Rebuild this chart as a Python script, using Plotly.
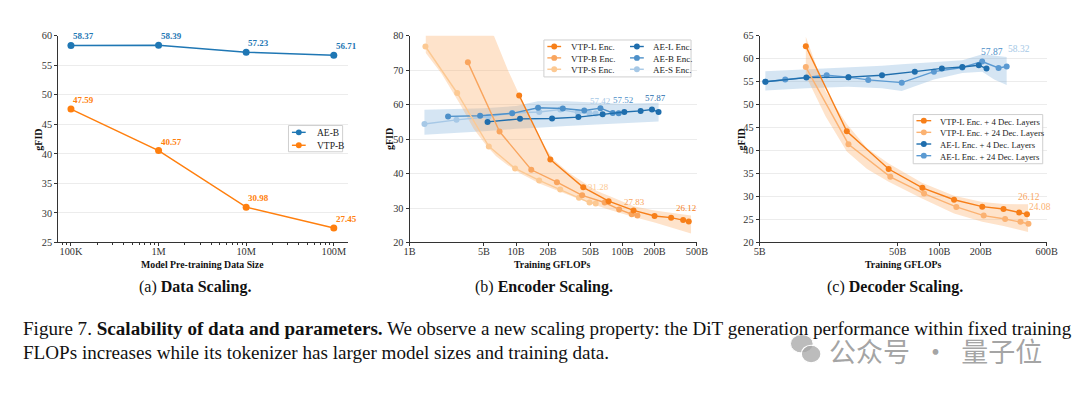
import numpy as np
import plotly.graph_objects as go

W, H = 1080, 394
SERIF = "Liberation Serif, Times New Roman, serif"

# ---------------- data ----------------
# (a) Data scaling
data_size_vals = [1e5, 1e6, 1e7, 1e8]
data_size_ticks = ["100K", "1M", "10M", "100M"]
ae_b = [58.37, 58.39, 57.23, 56.71]
vtp_b = [47.59, 40.57, 30.98, 27.45]

# (b) Encoder scaling (x in billions of GFLOPs)
enc_vtp_l_x = [10.7, 21, 42.8, 74, 127, 200, 286, 371, 419]
enc_vtp_l_y = [62.7, 44.1, 36.0, 32.0, 29.3, 27.7, 27.2, 26.5, 26.12]
enc_vtp_b_x = [3.53, 7.0, 13.9, 24.2, 41.8, 68, 93, 122, 138]
enc_vtp_b_y = [72.3, 52.2, 41.1, 37.5, 33.7, 31.6, 29.6, 28.2, 27.83]
enc_vtp_s_x = [1.41, 2.8, 5.55, 9.8, 16.5, 26, 39, 49, 56]
enc_vtp_s_y = [76.9, 63.4, 47.9, 41.5, 38.0, 35.4, 33.0, 31.6, 31.28]
enc_ae_l_x = [5.4, 10.9, 21.8, 38.5, 65, 104, 148, 189, 218]
enc_ae_l_y = [55.0, 55.9, 56.0, 56.4, 57.2, 57.9, 58.2, 58.6, 57.87]
enc_ae_b_x = [2.3, 4.6, 9.2, 16.1, 27.5, 43.7, 62, 81, 92]
enc_ae_b_y = [56.6, 56.8, 57.5, 59.1, 58.9, 58.3, 59.0, 57.6, 57.52]
enc_ae_s_x = [1.38, 2.76, 5.5, 9.2, 16.5, 26, 38, 49, 56]
enc_ae_s_y = [54.4, 55.6, 56.5, 57.6, 57.9, 58.6, 57.7, 57.5, 57.42]
enc_vtp_band_hi_x = [1.42, 3, 6.2, 8.4, 11.9, 16.7, 22.6, 32, 57, 128, 200, 300, 440]
enc_vtp_band_hi = [92, 86, 80, 70, 60, 50, 44, 40, 35, 30.5, 29.3, 28.6, 27.8]
enc_vtp_band_lo_x = [1.42, 2, 3, 4, 5.3, 6.5, 8.3, 11, 17, 26, 40, 70, 125, 200, 300, 440]
enc_vtp_band_lo = [75, 69, 60, 53, 48, 45, 42.5, 40, 37, 34.8, 32.5, 29.8, 27.5, 25.8, 24.2, 22.6]
enc_ae_band_x = [1.38, 5, 10, 16, 30, 60, 100, 218]
enc_ae_band_hi = [58.5, 59, 59.6, 61, 61, 60.5, 60.3, 60.6]
enc_ae_band_lo = [51.3, 52.3, 53, 53.3, 53.8, 54.3, 54.6, 55.1]

# (c) Decoder scaling
dec_vtp4_x = [10.8, 21.4, 43, 75.5, 128, 205, 292, 379, 432]
dec_vtp4_y = [62.75, 44.2, 36.0, 31.9, 29.3, 27.8, 27.3, 26.5, 26.12]
dec_vtp24_x = [10.8, 22, 44.2, 77.6, 133, 210, 300, 388, 443]
dec_vtp24_y = [58.2, 41.4, 34.3, 30.65, 27.75, 25.85, 25.1, 24.5, 24.08]
dec_ae4_x = [5.5, 10.9, 22, 38.5, 66.5, 104.5, 147, 193.5, 220]
dec_ae4_y = [55.0, 55.9, 56.0, 56.4, 57.2, 57.9, 58.2, 58.6, 57.87]
dec_ae24_x = [5.5, 7.66, 15.3, 22, 30.6, 53.5, 91.5, 147, 204.6, 269, 308]
dec_ae24_y = [55.0, 55.5, 56.4, 56.0, 55.4, 54.8, 57.2, 58.1, 59.4, 58.0, 58.32]
dec_vtp_band_x = [10.8, 15, 21.4, 30, 43, 75, 128, 205, 292, 440]
dec_vtp_band_hi = [64.8, 53, 45.8, 40.5, 37.2, 33, 30.2, 28.8, 28.4, 28.3]
dec_vtp_band_lo = [56.3, 47.5, 39.8, 36, 33.2, 29.6, 26.3, 24.5, 23.6, 22.3]
dec_ae_band_x = [5.5, 10.9, 22, 38.5, 53.5, 91.5, 147, 205, 250, 308]
dec_ae_band_hi = [57.3, 57.7, 58.1, 58.5, 58.8, 59.3, 59.7, 61, 60.7, 60.4]
dec_ae_band_lo = [53.1, 53.6, 53.9, 53.6, 53.0, 55.5, 56.9, 57.2, 55.5, 54.3]

enc_ticks = [1, 5, 10, 20, 50, 100, 200, 500]
enc_tick_text = ["1B", "5B", "10B", "20B", "50B", "100B", "200B", "500B"]
dec_ticks = [5, 50, 100, 200, 600]
dec_tick_text = ["5B", "50B", "100B", "200B", "600B"]

# ---------------- styles ----------------
C_BLUE = "#1f77b4"
C_ORANGE = "#ff7f0e"
C_VTP_L = "#f77f19"
C_VTP_B = "#f9a55e"
C_VTP_S = "#fcc993"
C_AE_L = "#1f6ead"
C_AE_B = "#4d90c9"
C_AE_S = "#a6c8e6"
C_VTP24 = "#fbb272"
C_AE24 = "#5b9ad2"
BAND_OR = "rgba(253,174,107,0.35)"
BAND_BL = "rgba(100,160,210,0.27)"


def pxx(x):
    return x / W


def pyy(y):
    return 1 - y / H


fig = go.Figure()


def line_trace(x, y, color, xa, ya, size=6, width=1.4):
    fig.add_trace(go.Scatter(x=x, y=y, mode="lines+markers", xaxis=xa, yaxis=ya,
                             line=dict(color=color, width=width),
                             marker=dict(color=color, size=size),
                             showlegend=False, hoverinfo="x+y"))


def band_trace(x_hi, hi, x_lo, lo, color, xa, ya):
    fig.add_trace(go.Scatter(x=list(x_hi) + list(x_lo)[::-1], y=list(hi) + list(lo)[::-1],
                             fill="toself", fillcolor=color, mode="lines",
                             line=dict(width=0), xaxis=xa, yaxis=ya,
                             showlegend=False, hoverinfo="skip"))


# panel a
line_trace(data_size_vals, ae_b, C_BLUE, "x", "y", size=7, width=1.5)
line_trace(data_size_vals, vtp_b, C_ORANGE, "x", "y", size=7, width=1.5)

# panel b
band_trace(enc_ae_band_x, enc_ae_band_hi, enc_ae_band_x, enc_ae_band_lo, BAND_BL, "x2", "y2")
band_trace(enc_vtp_band_hi_x, enc_vtp_band_hi, enc_vtp_band_lo_x, enc_vtp_band_lo, BAND_OR, "x2", "y2")
line_trace(enc_ae_s_x, enc_ae_s_y, C_AE_S, "x2", "y2")
line_trace(enc_ae_b_x, enc_ae_b_y, C_AE_B, "x2", "y2")
line_trace(enc_ae_l_x, enc_ae_l_y, C_AE_L, "x2", "y2")
line_trace(enc_vtp_s_x, enc_vtp_s_y, C_VTP_S, "x2", "y2")
line_trace(enc_vtp_b_x, enc_vtp_b_y, C_VTP_B, "x2", "y2")
line_trace(enc_vtp_l_x, enc_vtp_l_y, C_VTP_L, "x2", "y2")

# panel c
band_trace(dec_ae_band_x, dec_ae_band_hi, dec_ae_band_x, dec_ae_band_lo, BAND_BL, "x3", "y3")
band_trace(dec_vtp_band_x, dec_vtp_band_hi, dec_vtp_band_x, dec_vtp_band_lo, BAND_OR, "x3", "y3")
line_trace(dec_ae24_x, dec_ae24_y, C_AE24, "x3", "y3")
line_trace(dec_ae4_x, dec_ae4_y, C_AE_L, "x3", "y3")
line_trace(dec_vtp24_x, dec_vtp24_y, C_VTP24, "x3", "y3")
line_trace(dec_vtp4_x, dec_vtp4_y, C_VTP_L, "x3", "y3")

# ---------------- axes ----------------
YDOM = [pyy(244.3), pyy(31.7)]
tickfont = dict(family=SERIF, size=10.3, color="#333")
common_x = dict(type="log", showline=True, linecolor="#333", linewidth=1, ticks="outside",
                ticklen=3, tickcolor="#333", showgrid=False, zeroline=False, tickfont=tickfont,
                mirror=False, ticklabelstandoff=-4)
common_y = dict(showline=True, linecolor="#333", linewidth=1, ticks="outside", ticklen=3,
                tickcolor="#333", showgrid=True, gridcolor="#ececec", gridwidth=1,
                zeroline=False, tickfont=tickfont, domain=YDOM)

fig.update_layout(
    xaxis=dict(common_x, domain=[pxx(53), pxx(347)], range=[4.854, 8.157],
               tickvals=data_size_vals, ticktext=data_size_ticks, anchor="y",
               minor=dict(ticks="outside", ticklen=2, tickcolor="#333", dtick="D1", showgrid=False)),
    yaxis=dict(common_y, range=[25, 60], dtick=5, anchor="x"),
    xaxis2=dict(common_x, domain=[pxx(410), pxx(702)], range=[0, np.log10(500)],
                tickvals=enc_ticks, ticktext=enc_tick_text, anchor="y2"),
    yaxis2=dict(common_y, range=[20, 80], dtick=10, anchor="x2"),
    xaxis3=dict(common_x, domain=[pxx(765.7), pxx(1057.3)], range=[np.log10(5), np.log10(600)],
                tickvals=dec_ticks, ticktext=dec_tick_text, anchor="y3"),
    yaxis3=dict(common_y, range=[20, 65], dtick=5, anchor="x3"),
)

annotations = []
shapes = []
YFIX = 3  # annotation text renders slightly above its nominal centre


def ann_paper(text, x, y, size, color="#111", xanchor="center", yanchor="middle",
              angle=0, family=SERIF, dy=YFIX):
    annotations.append(dict(text=text, x=pxx(x), y=pyy(y + dy), xref="paper", yref="paper",
                            showarrow=False, xanchor=xanchor, yanchor=yanchor,
                            textangle=angle, font=dict(family=family, size=size, color=color)))


# axis titles
ann_paper("<b>gFID</b>", 33, 138, 10, angle=-90, dy=0)
ann_paper("<b>gFID</b>", 389, 138, 10, angle=-90, dy=0)
ann_paper("<b>gFID</b>", 747, 138, 10, angle=-90, dy=0)
ann_paper("<b>Model Pre-training Data Size</b>", 200, 264, 9.8)
ann_paper("<b>Training GFLOPs</b>", 555, 264, 9.8)
ann_paper("<b>Training GFLOPs</b>", 911, 264, 9.8)

# sub captions
ann_paper("(a) <b>Data Scaling.</b>", 192, 287.5, 16)
ann_paper("(b) <b>Encoder Scaling.</b>", 547, 287.5, 16)
ann_paper("(c) <b>Decoder Scaling.</b>", 903, 287.5, 16)

# figure caption
ann_paper("Figure 7. <b>Scalability of data and parameters.</b> We observe a new scaling property: "
          "the DiT generation performance within fixed training", 15, 330, 19.1, xanchor="left")
ann_paper("FLOPs increases while its tokenizer has larger model sizes and training data.",
          15, 354, 19.1, xanchor="left")

# watermark
shapes.append(dict(type="circle", xref="paper", yref="paper", x0=pxx(797), x1=pxx(820),
                   y0=pyy(358), y1=pyy(339), fillcolor="rgba(165,165,165,0.75)",
                   line=dict(color="white", width=1), layer="above"))
shapes.append(dict(type="circle", xref="paper", yref="paper", x0=pxx(808), x1=pxx(828),
                   y0=pyy(368), y1=pyy(350), fillcolor="rgba(165,165,165,0.75)",
                   line=dict(color="white", width=1.2), layer="above"))
ann_paper("公众号\u00a0\u00a0·\u00a0\u00a0量子位", 944, 352, 27, color="rgba(140,140,140,0.8)",
          family="Noto Sans CJK SC")


# data labels
def data_label(xa, ya, x, y, text, color, size, bold=False, dx=0, dy=12, anchor="center"):
    t = f"<b>{text}</b>" if bold else text
    annotations.append(dict(text=t, x=np.log10(x), y=y, xref=xa, yref=ya, showarrow=False,
                            xanchor=anchor, yanchor="middle", xshift=dx, yshift=dy,
                            font=dict(family=SERIF, size=size, color=color)))


for xv, yv in zip(data_size_vals, ae_b):
    data_label("x", "y", xv, yv, f"{yv:.2f}", C_BLUE, 9, bold=True, dx=0, dy=9, anchor="left")
for xv, yv in zip(data_size_vals, vtp_b):
    data_label("x", "y", xv, yv, f"{yv:.2f}", C_ORANGE, 9, bold=True, dx=0, dy=9, anchor="left")

data_label("x2", "y2", enc_ae_s_x[-1], enc_ae_s_y[-1], "57.42", C_AE_S, 9, dx=4, dy=13)
data_label("x2", "y2", enc_ae_b_x[-1], enc_ae_b_y[-1], "57.52", C_AE_B, 9, dx=4, dy=13)
data_label("x2", "y2", enc_ae_l_x[-1], enc_ae_l_y[-1], "57.87", C_AE_L, 9, dx=-3, dy=14)
data_label("x2", "y2", enc_vtp_s_x[-1], enc_vtp_s_y[-1], "31.28", C_VTP_S, 9, dx=3, dy=17)
data_label("x2", "y2", enc_vtp_b_x[-1], enc_vtp_b_y[-1], "27.83", C_VTP_B, 9, dx=-3, dy=14)
data_label("x2", "y2", enc_vtp_l_x[-1], enc_vtp_l_y[-1], "26.12", C_VTP_L, 9, dx=-3, dy=13)

data_label("x3", "y3", dec_ae4_x[-1], dec_ae4_y[-1], "57.87", C_AE_B, 9.5, dx=5, dy=17)
data_label("x3", "y3", dec_ae24_x[-1], dec_ae24_y[-1], "58.32", C_AE_S, 9.5, dx=12, dy=17)
data_label("x3", "y3", dec_vtp4_x[-1], dec_vtp4_y[-1], "26.12", C_VTP_B, 9.5, dx=2, dy=17)
data_label("x3", "y3", dec_vtp24_x[-1], dec_vtp24_y[-1], "24.08", C_VTP24, 9.5, dx=12, dy=17)


# custom legends (compact, matplotlib-like)
def legend_box(x0, y0, x1, y1):
    shapes.append(dict(type="rect", xref="paper", yref="paper", x0=pxx(x0), x1=pxx(x1),
                       y0=pyy(y1), y1=pyy(y0), fillcolor="rgba(255,255,255,0.9)",
                       line=dict(color="#cfcfcf", width=1), layer="above"))


def legend_entries(entries, gx0, gx1, tx, y_first, row_h, size):
    for i, (name, color) in enumerate(entries):
        yc = y_first + i * row_h
        shapes.append(dict(type="line", xref="paper", yref="paper", x0=pxx(gx0), x1=pxx(gx1),
                           y0=pyy(yc), y1=pyy(yc), line=dict(color=color, width=1.4),
                           layer="above"))
        xm = (gx0 + gx1) / 2
        r = 3
        shapes.append(dict(type="circle", xref="paper", yref="paper", x0=pxx(xm - r),
                           x1=pxx(xm + r), y0=pyy(yc + r), y1=pyy(yc - r), fillcolor=color,
                           line=dict(color=color, width=0), layer="above"))
        ann_paper(name, tx, yc, size, color="#222", xanchor="left", dy=1)


legend_box(287, 124, 342, 151)
legend_entries([("AE-B", C_BLUE), ("VTP-B", C_ORANGE)], 290.5, 304.5, 314, 131, 13.3, 9.5)

legend_box(546.5, 36, 696, 74)
legend_entries([("VTP-L Enc.", C_VTP_L), ("VTP-B Enc.", C_VTP_B), ("VTP-S Enc.", C_VTP_S)],
               550, 564, 572, 42.7, 11.7, 9)
legend_entries([("AE-L Enc.", C_AE_L), ("AE-B Enc.", C_AE_B), ("AE-S Enc.", C_AE_S)],
               634, 648, 655, 42.7, 11.7, 9)

legend_box(921.7, 112.7, 1053.3, 163.3)
legend_entries([("VTP-L Enc. + 4 Dec. Layers", C_VTP_L), ("VTP-L Enc. + 24 Dec. Layers", C_VTP24),
                ("AE-L Enc. + 4 Dec. Layers", C_AE_L), ("AE-L Enc. + 24 Dec. Layers", C_AE24)],
               925, 940, 947, 119, 12, 8.7)

fig.update_layout(
    width=W, height=H, margin=dict(l=0, r=0, t=0, b=0),
    paper_bgcolor="white", plot_bgcolor="white",
    showlegend=False, annotations=annotations, shapes=shapes,
    font=dict(family=SERIF),
)

fig.write_html("out.html", config={"displayModeBar": False},
               post_script="document.body.style.margin='0';document.body.style.overflow='hidden';")
